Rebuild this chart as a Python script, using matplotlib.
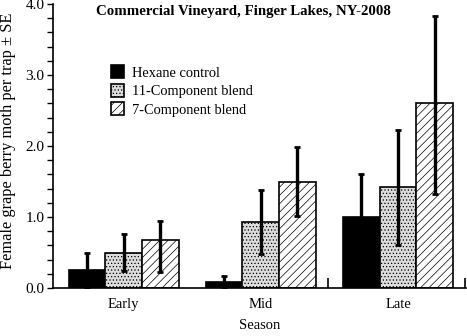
import matplotlib
matplotlib.use("Agg")
import matplotlib.pyplot as plt
import numpy as np

seasons = ["Early", "Mid", "Late"]
series = ["Hexane control", "11-Component blend", "7-Component blend"]
hexane = [0.25, 0.08, 1.00]
hexane_err = [0.25, 0.09, 0.61]
blend11 = [0.50, 0.93, 1.42]
blend11_err = [0.26, 0.45, 0.81]
blend7 = [0.68, 1.50, 2.60]
blend7_lo = [0.46, 0.48, 1.27]
blend7_hi = [0.26, 0.49, 1.23]

plt.rcParams['font.family'] = ['Liberation Serif', 'DejaVu Serif']
plt.rcParams['hatch.linewidth'] = 0.5

fig = plt.figure(figsize=(4.67, 3.36), dpi=100)
ax = fig.add_axes([53/467, 48/336, 413/467, 284/336])

x = np.arange(len(seasons))
w = 0.267
err_kw = dict(ecolor='black', elinewidth=2.4, capsize=2.5, capthick=2)
ax.bar(x - w, hexane, w, yerr=hexane_err, color='black', edgecolor='black',
       linewidth=1.2, error_kw=err_kw, label=series[0], zorder=2)
ax.bar(x, blend11, w, yerr=blend11_err, color='#dcdcdc', edgecolor='black',
       hatch='.....', linewidth=1.2, error_kw=err_kw, label=series[1], zorder=2)
ax.bar(x + w, blend7, w, yerr=[blend7_lo, blend7_hi], color='white', edgecolor='black',
       hatch='////', linewidth=1.2, error_kw=err_kw, label=series[2], zorder=2)

ax.set_xlim(-0.514, 2.495)
ax.set_ylim(0, 4.0)
ax.spines['top'].set_visible(False)
ax.spines['right'].set_visible(False)
ax.spines['left'].set_linewidth(1.2)
ax.spines['bottom'].set_linewidth(1.2)

ax.set_yticks([0, 1, 2, 3, 4])
ax.set_yticklabels(["0.0", "1.0", "2.0", "3.0", "4.0"], fontsize=11)
ax.set_yticks(np.arange(0, 4.01, 0.2), minor=True)
ax.tick_params(axis='y', which='both', direction='out', length=4, width=1, pad=2)

ax.set_xticks(x)
ax.set_xticklabels(seasons, fontsize=10.5)
ax.tick_params(axis='x', which='major', length=0, pad=7)
ax.set_xticks([1.49, 2.49], minor=True)
ax.tick_params(axis='x', which='minor', direction='in', length=7, width=1.2)

ax.set_xlabel("Season", fontsize=10.5, labelpad=6)
fig.text(8.5/467, 1 - 141/336, "Female grape berry moth per trap \u00b1 SE",
         rotation=90, ha='center', va='center', fontsize=11.8)

fig.text(243/467, 1 - 12/336, "Commercial Vineyard, Finger Lakes, NY-2008",
         ha='center', va='center', fontsize=10.7, fontweight='bold')

ax.legend(loc='upper left', bbox_to_anchor=(0.115, 0.82), frameon=False, fontsize=10.4,
          handlelength=0.9, handleheight=1.0, handletextpad=0.6, labelspacing=0.28,
          borderpad=0.2)

fig.savefig("out.png", dpi=100)
